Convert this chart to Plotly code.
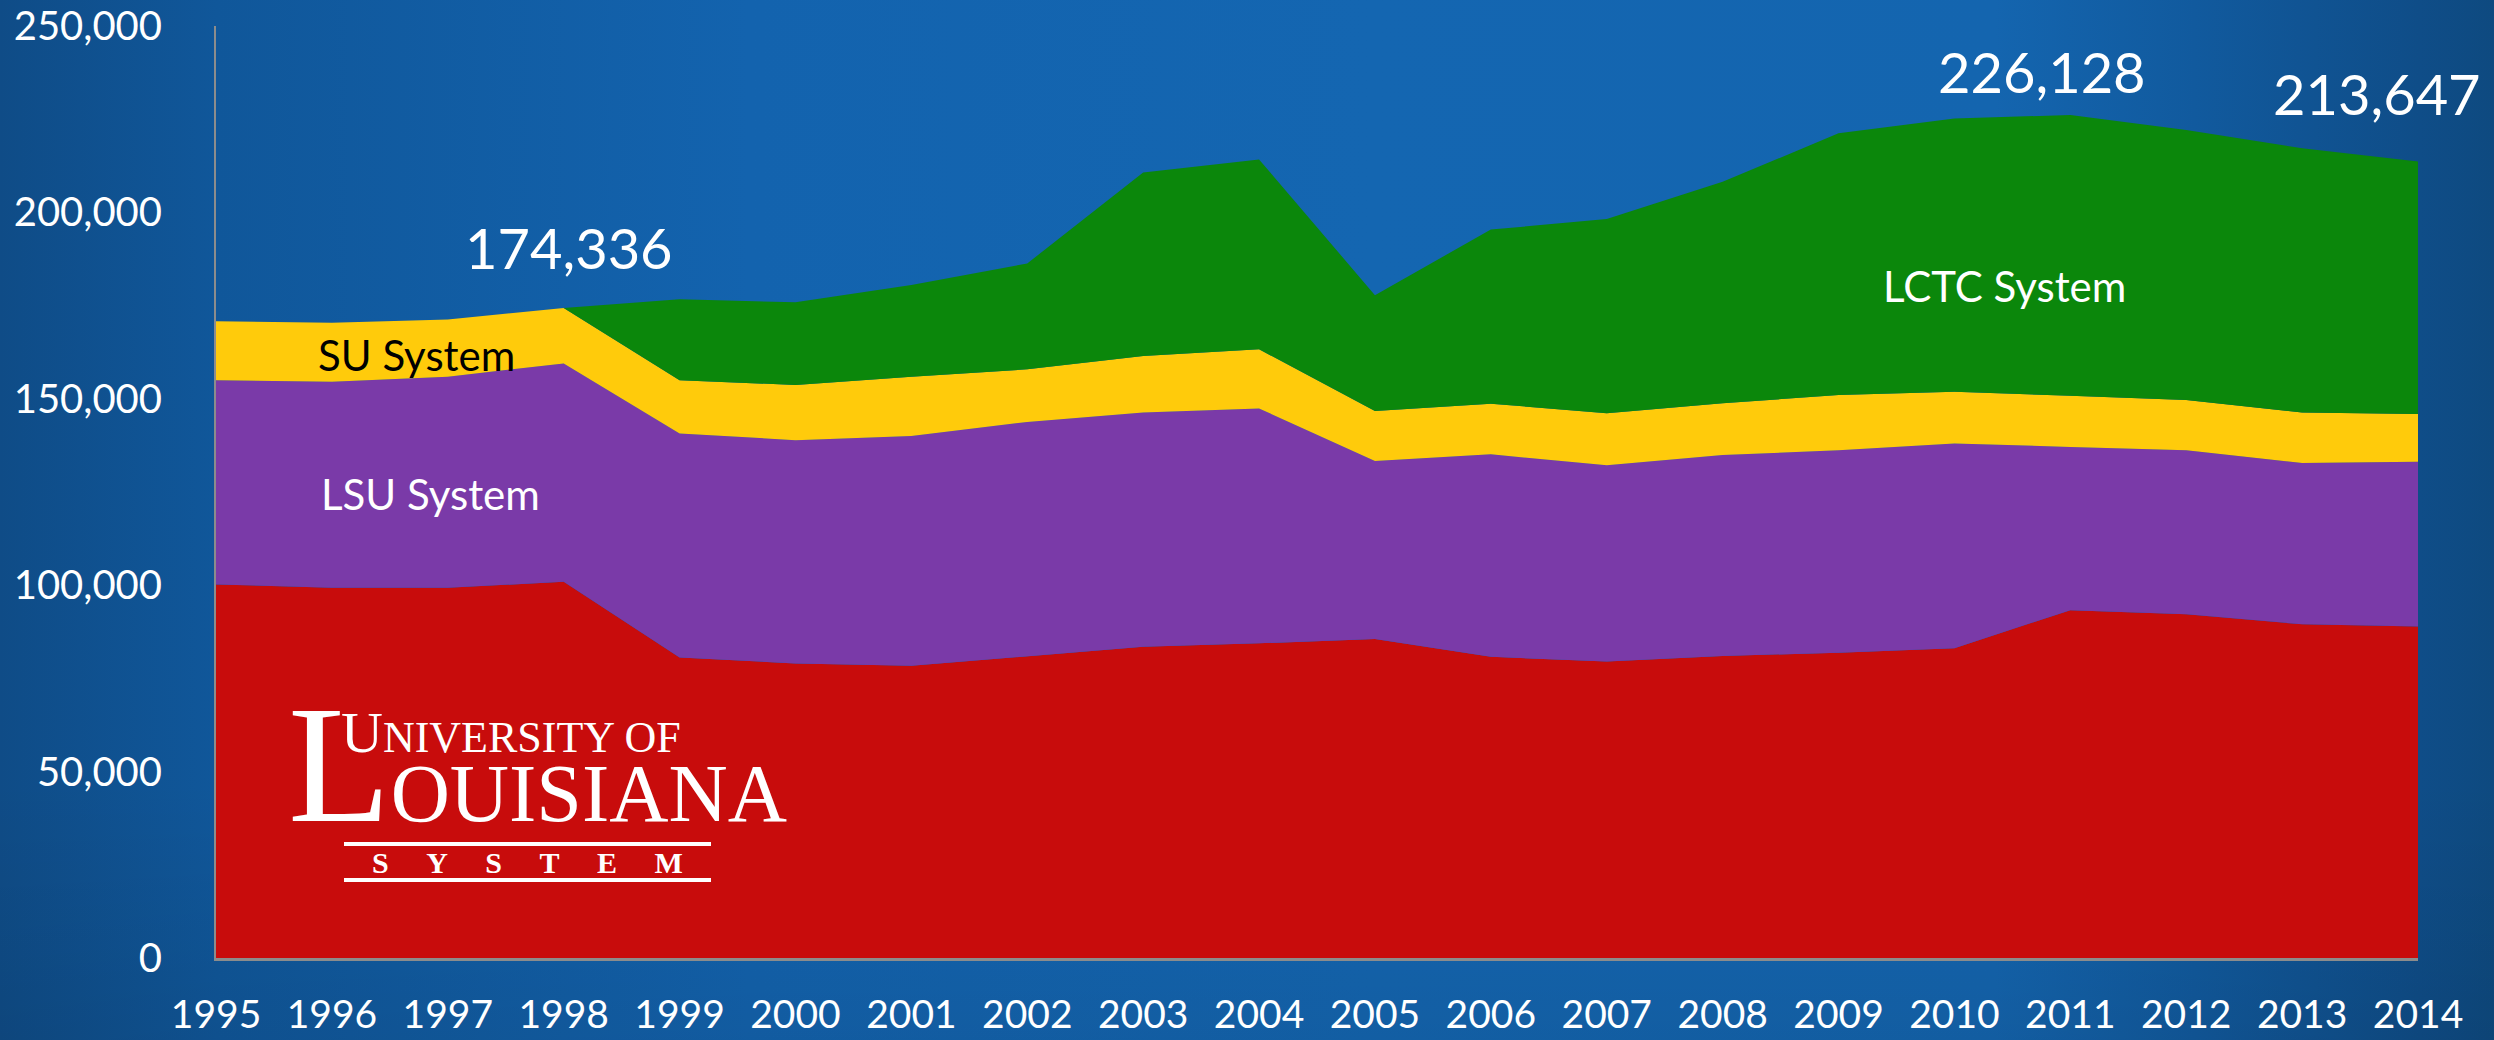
import base64
import plotly.graph_objects as go

# ---- data ----
years = list(range(1995, 2015))
ul_system = [100200, 99300, 99300, 100900, 80600, 79000, 78400, 81000, 83500, 84400,
             85600, 80800, 79500, 81000, 81900, 83100, 93300, 92200, 89500, 88900]
lsu_system = [54800, 55300, 56600, 58600, 60100, 59900, 61600, 62800, 62800, 63000,
              47700, 54300, 52700, 53900, 54300, 54900, 43800, 44000, 43300, 44200]
su_system = [15800, 15800, 15400, 14836, 14300, 14800, 15900, 14100, 15200, 15900,
             13400, 13600, 13900, 13900, 14800, 13900, 13700, 13500, 13500, 12800]
lctc_system = [0, 0, 0, 0, 21700, 22200, 24600, 28400, 49200, 50900,
               31100, 46700, 52100, 59400, 70200, 73300, 75328, 72400, 70900, 67747]
y_ticks = [0, 50000, 100000, 150000, 200000, 250000]
callout_years = [1998, 2011, 2014]

series_names = ["UL System", "LSU System", "SU System", "LCTC System"]
series_values = [ul_system, lsu_system, su_system, lctc_system]
series_colors = ["#C80C0C", "#7A3AA8", "#FFCB0B", "#0B870B"]

totals = [sum(v) for v in zip(*series_values)]

W, H = 2494, 1040
ML, MR, MT, MB = 216, 76, 26, 82
PW, PH = W - ML - MR, H - MT - MB

FONT = "Lato, 'Open Sans', sans-serif"
SERIF = "'Liberation Serif', 'DejaVu Serif', serif"

fig = go.Figure()
for name, vals, col in zip(series_names, series_values, series_colors):
    fig.add_trace(go.Scatter(
        x=years, y=vals, name=name, mode="lines", stackgroup="one",
        line=dict(width=0, color=col), fillcolor=col, hoverinfo="skip",
    ))

# ---- background gradient image ----
svg = f'''<svg xmlns="http://www.w3.org/2000/svg" width="{W}" height="{H}" viewBox="0 0 {W} {H}" preserveAspectRatio="none">
<defs>
<linearGradient id="g" x1="0" y1="0" x2="1" y2="0">
<stop offset="0" stop-color="#0F4C87"/>
<stop offset="0.087" stop-color="#10579A"/>
<stop offset="0.30" stop-color="#1363AE"/>
<stop offset="0.55" stop-color="#1466B1"/>
<stop offset="0.80" stop-color="#1465AF"/>
<stop offset="0.88" stop-color="#115A9E"/>
<stop offset="0.97" stop-color="#0F4D88"/>
<stop offset="1" stop-color="#0E4A80"/>
</linearGradient>
<linearGradient id="v" x1="0" y1="0" x2="0" y2="1">
<stop offset="0" stop-color="#000000" stop-opacity="0"/>
<stop offset="0.75" stop-color="#000000" stop-opacity="0"/>
<stop offset="1" stop-color="#000000" stop-opacity="0.08"/>
</linearGradient>
</defs>
<rect width="{W}" height="{H}" fill="url(#g)"/>
<rect width="{W}" height="{H}" fill="url(#v)"/>
</svg>'''
src = "data:image/svg+xml;base64," + base64.b64encode(svg.encode()).decode()
fig.add_layout_image(dict(
    source=src, xref="paper", yref="paper",
    x=-ML / PW, y=1 + MT / PH, sizex=W / PW, sizey=H / PH,
    xanchor="left", yanchor="top", sizing="stretch", layer="below",
))

# ---- value callouts ----
shifts = {1998: (5, 61), 2011: (-28, 43), 2014: (-41, 68)}
for yr in callout_years:
    i = years.index(yr)
    dx, dy = shifts[yr]
    fig.add_annotation(x=yr, y=totals[i], text=f"{totals[i]:,}", showarrow=False,
                       xshift=dx, yshift=dy, font=dict(family=FONT, size=56, color="white"))

# ---- series labels ----
fig.add_annotation(x=1996.73, y=161700, text="SU System", showarrow=False,
                   font=dict(family=FONT, size=42, color="black"))
fig.add_annotation(x=1996.85, y=124400, text="LSU System", showarrow=False,
                   font=dict(family=FONT, size=42, color="white"))
fig.add_annotation(x=2010.43, y=180200, text="LCTC System", showarrow=False,
                   font=dict(family=FONT, size=42, color="white"))

# ---- logo (text) ----
def px(xp):
    return (xp - ML) / PW

def py(yp):
    return 1 - (yp - MT) / PH

nb = "\u00a0"
logo_text = (nb * 4 + "<span style='font-size:58px'>U</span><span style='font-size:44px'>NIVERSITY OF</span>"
             "<br><span style='font-size:168px'>L</span><span style='font-size:82px'>OUISIANA</span>")
fig.add_annotation(xref="paper", yref="paper", x=px(286), y=py(819), xanchor="left", yanchor="bottom",
                   yshift=-40, align="left", text=logo_text, showarrow=False,
                   font=dict(family=SERIF, size=53, color="white"))
for yline in (844, 880):
    fig.add_shape(type="line", xref="paper", yref="paper", x0=px(344), x1=px(711),
                  y0=py(yline), y1=py(yline), line=dict(color="white", width=4))
sys_text = (nb * 5).join("SYSTEM")
fig.add_annotation(xref="paper", yref="paper", x=px(527), y=py(862),
                   xanchor="center", yanchor="middle", text=f"<b>{sys_text}</b>", showarrow=False,
                   font=dict(family=SERIF, size=30, color="white"))

fig.update_layout(
    width=W, height=H,
    margin=dict(l=ML, r=MR, t=MT, b=MB, pad=0, autoexpand=False),
    paper_bgcolor="#1363AD", plot_bgcolor="rgba(0,0,0,0)",
    showlegend=False, hovermode=False,
    font=dict(family=FONT, color="white", size=40),
)
fig.update_xaxes(
    range=[1995, 2014], tickvals=years, ticktext=[str(y) for y in years],
    showgrid=False, zeroline=False, showline=True, linecolor="#8C8C8C", linewidth=3,
    ticks="outside", ticklen=0, ticklabelstandoff=20, automargin=False,
    tickfont=dict(family=FONT, size=39, color="white"),
)
fig.update_yaxes(
    range=[0, 250000], tickvals=y_ticks, tickformat=",",
    showgrid=False, zeroline=False, showline=True, linecolor="#8C8C8C", linewidth=2,
    ticks="outside", ticklen=0, ticklabelstandoff=44, automargin=False,
    tickfont=dict(family=FONT, size=40, color="white"),
)

fig.write_html("out.html", config={"displayModeBar": False},
               post_script="document.body.style.margin='0';document.body.style.overflow='hidden';")
